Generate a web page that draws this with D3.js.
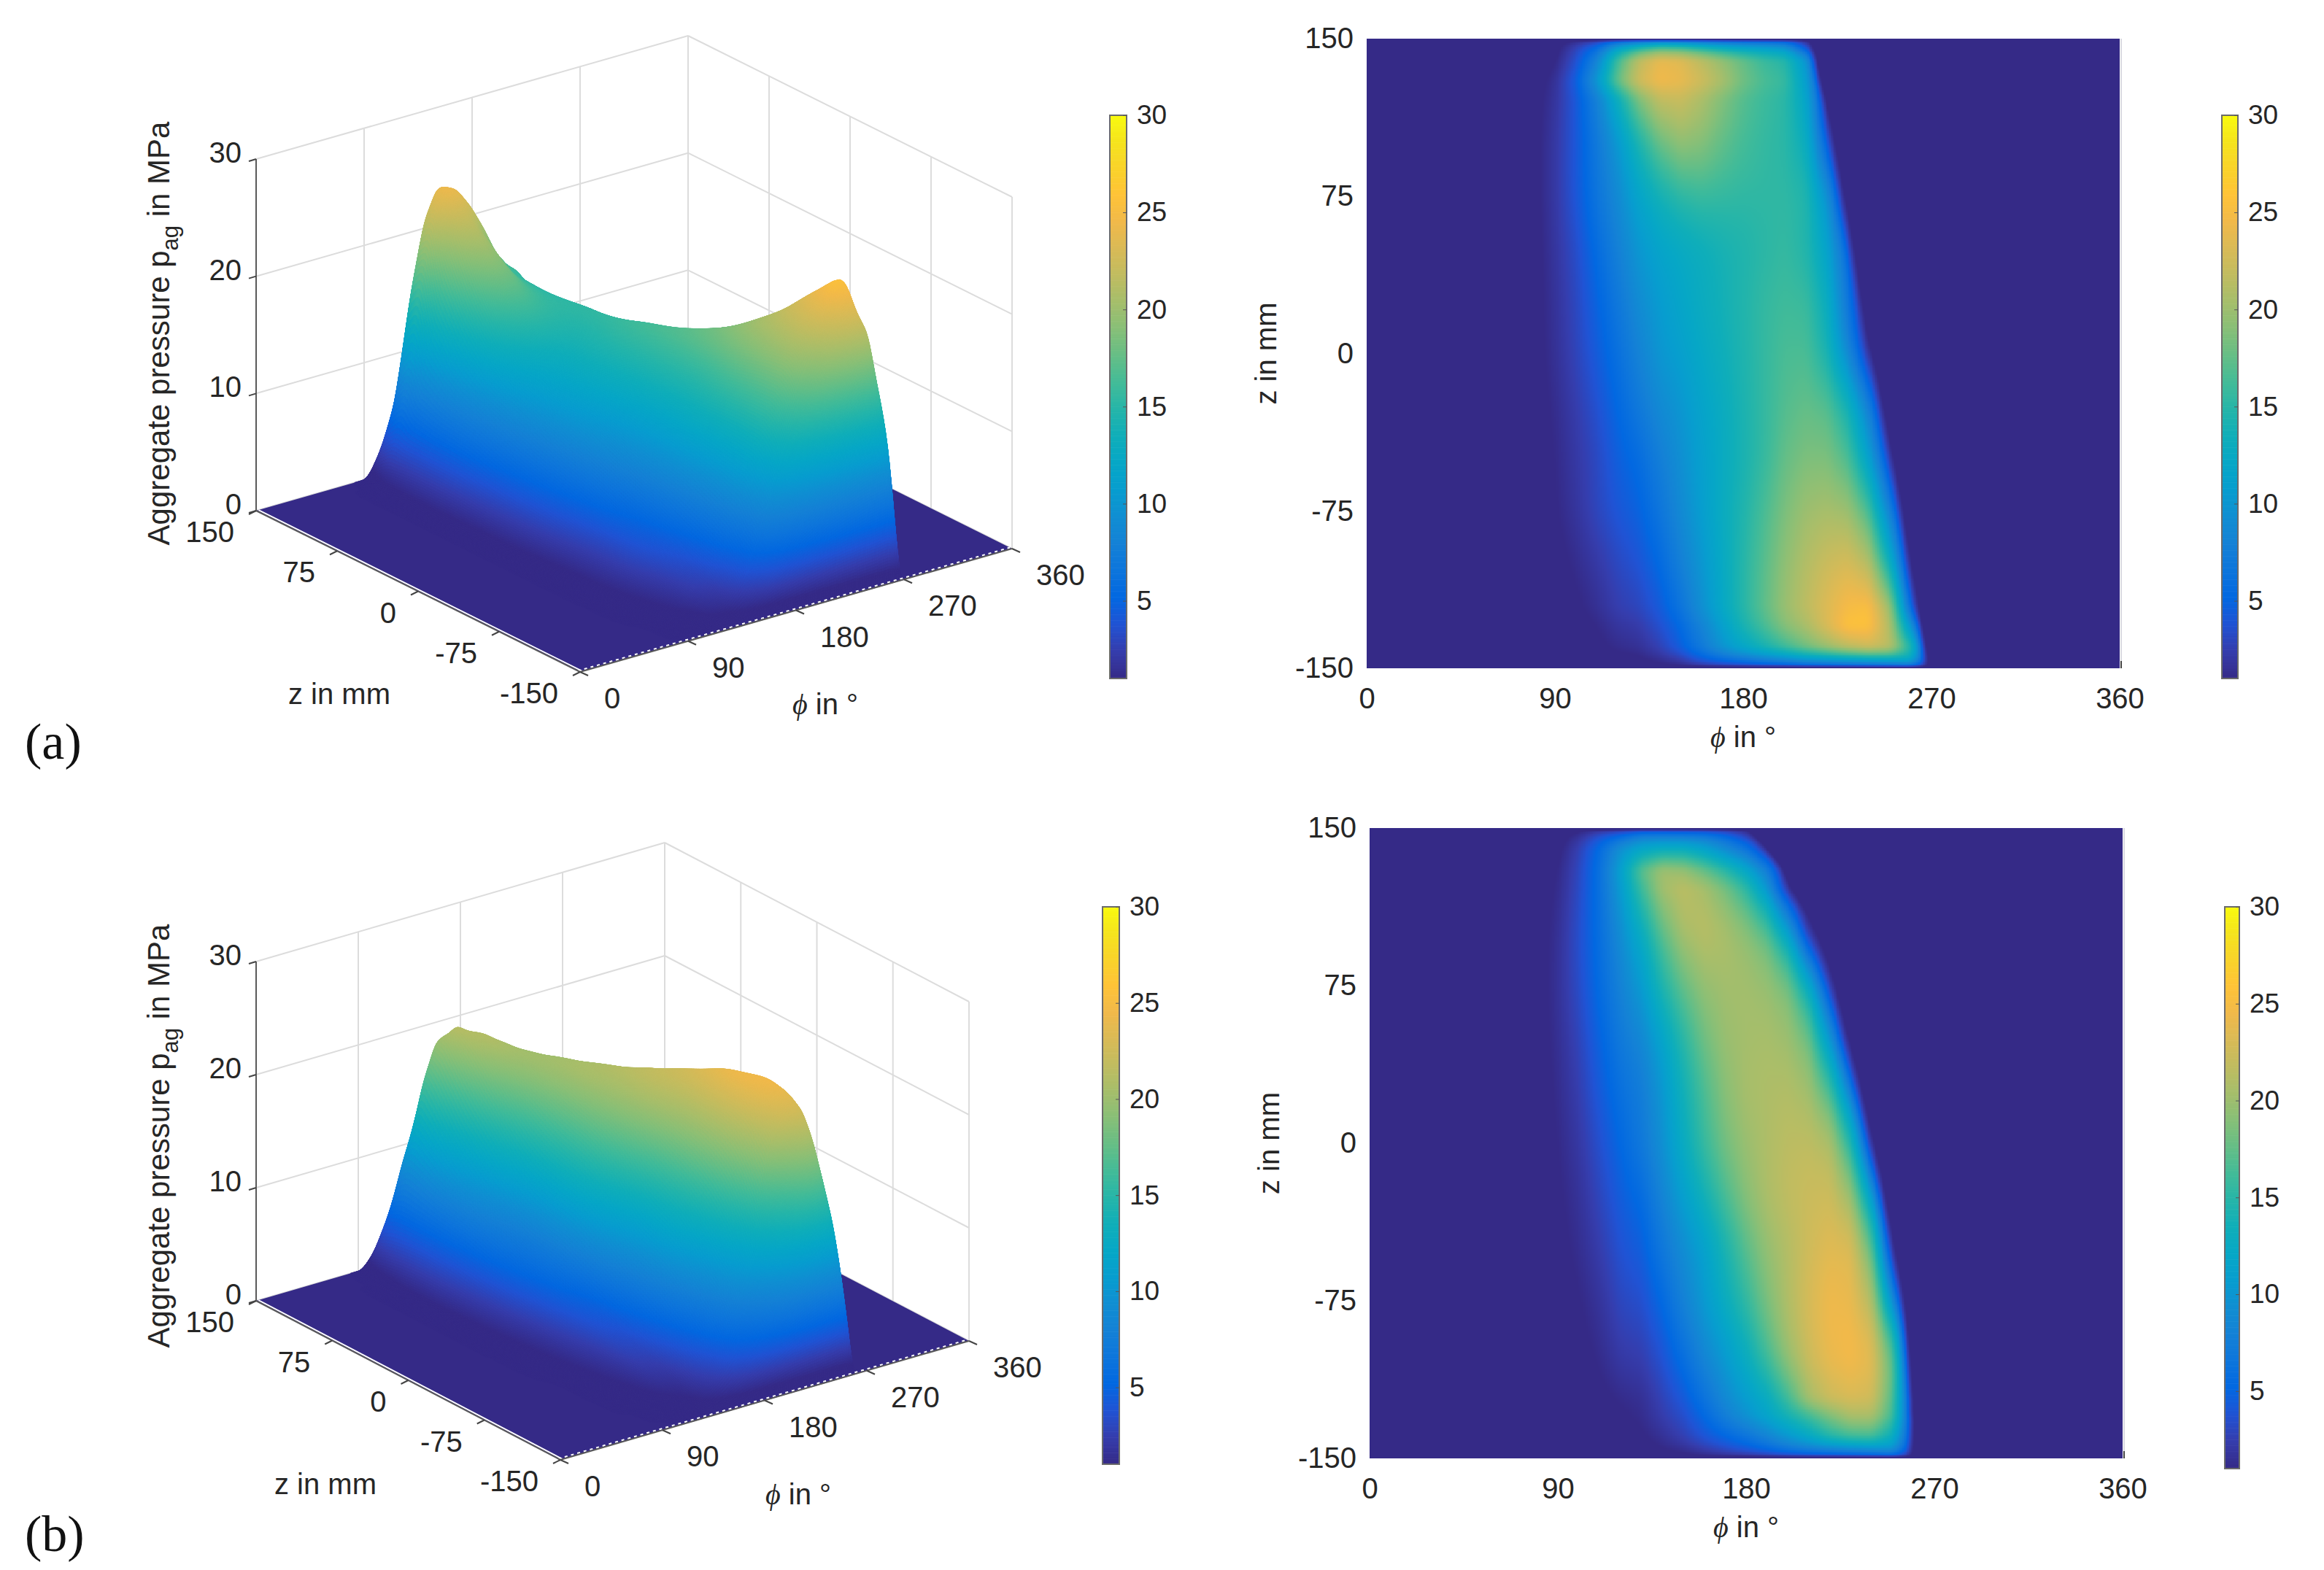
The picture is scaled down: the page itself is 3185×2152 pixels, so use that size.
<!DOCTYPE html>
<html lang="en">

<head>
  <meta charset="UTF-8">
  <title>Aggregate pressure</title>
  <script src="https://d3js.org/d3.v7.min.js"></script>
  <style>
    body { margin: 0; background: #fff; }
    svg { display: block; }
    text { font-family: "Liberation Sans", Arial, sans-serif; fill: #262626; }
    .domain { stroke: none; }
    .grid line { stroke: #dcdcdc; stroke-width: 2; }
    .panel-label { font-family: "Liberation Serif", serif; font-size: 70px; fill: #111; }
  </style>
</head>

<body>
  <svg width="3185" height="2152"></svg>
  <script>
    // pressure tables, one row per z, columns follow phiCols
    const phiCols = [0, 70, 80, 90, 100, 110, 120, 130, 140, 150, 160, 170, 180, 190, 200, 210, 220, 230, 240, 250, 260, 270, 280, 360];
    const zRows = [150, 147, 140, 130, 120, 100, 75, 50, 25, 0, -25, -50, -75, -100, -120, -130, -140, -147, -150];

    // phi where the pressure has dropped to nothing, per z row
    const edgeA = [211, 212, 213.5, 215.5, 218, 222, 226.5, 231, 235.5, 240, 245, 250, 254.5, 258.5, 262, 264, 265.5, 267, 268];
    const edgeB = [180, 182, 189, 197, 201, 209.5, 220, 226.5, 232.5, 238.5, 244, 249, 253.5, 256.5, 258, 258.5, 258.5, 258.5, 258.5];

    const pressureA = [
      [0, 0, 0, 0, 0, 0, 0, 0, 0, 0, 0, 0, 0, 0, 0, 0, 0, 0, 0, 0, 0, 0, 0, 0],
      [0, 0, 0, .3, 2.5, 5, 10, 13, 15, 14.5, 13, 11.5, 10.5, 10, 9, 3, 0, 0, 0, 0, 0, 0, 0, 0],
      [0, 0, 0, .8, 3.5, 8, 16, 21.5, 24, 23.5, 21.5, 19.5, 17.5, 15.8, 14.8, 10, 1, 0, 0, 0, 0, 0, 0, 0],
      [0, 0, .3, 1.5, 4.5, 10, 17.5, 22.5, 24.5, 24, 22.5, 20.5, 18, 16.5, 15.6, 11, 2, 0, 0, 0, 0, 0, 0, 0],
      [0, 0, .5, 1.8, 4, 7.5, 12.5, 18, 21.5, 22, 20.5, 18.5, 16.8, 15.8, 15, 12, 3, 0, 0, 0, 0, 0, 0, 0],
      [0, 0, .6, 2, 4, 6.8, 10, 14, 17.5, 19.5, 19, 17.5, 16.3, 15.5, 15, 13, 4.5, 0, 0, 0, 0, 0, 0, 0],
      [0, 0, .6, 2, 4, 6.5, 8.8, 11.5, 13.5, 15, 15.7, 15.5, 15.3, 15.3, 15.3, 14.8, 10, .8, 0, 0, 0, 0, 0, 0],
      [0, 0, .5, 1.8, 3.3, 5.5, 7.8, 10, 11.5, 12.3, 13, 13.8, 14.4, 15, 15.5, 14.5, 11.5, 6, 0, 0, 0, 0, 0, 0],
      [0, 0, .5, 1.6, 3, 4.8, 6.8, 9, 10.5, 11.8, 12.8, 13.7, 14.6, 15.5, 16, 15.8, 13, 6.5, 0, 0, 0, 0, 0, 0],
      [0, 0, .5, 1.5, 2.8, 4.3, 6, 8, 10, 11, 12.2, 13.3, 14.4, 15.5, 16.5, 16.5, 14, 8.5, 1.5, 0, 0, 0, 0, 0],
      [0, 0, .4, 1.2, 2.3, 3.6, 5.2, 7, 8.8, 10, 11.5, 12.8, 14.2, 15.5, 16.8, 17.5, 17, 14, 8, .5, 0, 0, 0, 0],
      [0, 0, .3, 1, 2, 3, 4.5, 5.5, 7.5, 9.3, 11, 12.5, 14, 15.5, 17.5, 18.5, 18.5, 16.5, 11, 3, 0, 0, 0, 0],
      [0, 0, .3, .9, 1.8, 3, 4, 4.8, 6.5, 8.8, 10.8, 12.8, 14.5, 16.5, 18.5, 20, 20.5, 20, 16.5, 8, .5, 0, 0, 0],
      [0, 0, .1, .5, 1.2, 2, 3, 3.8, 5.3, 7.7, 10, 12.3, 14.8, 17, 19.3, 21, 22.3, 23, 21, 13, 2, 0, 0, 0],
      [0, 0, 0, .3, .8, 1.5, 2.5, 3, 4.3, 6.5, 9.5, 12.3, 15, 17.5, 20, 21.8, 23.5, 25, 25.5, 20, 5, 0, 0, 0],
      [0, 0, 0, .2, .5, 1, 1.8, 2.2, 3.5, 5.3, 8, 11, 14, 16.3, 18.8, 20.5, 23, 25.5, 25.5, 21, 10, .5, 0, 0],
      [0, 0, 0, .1, .3, .7, 1.2, 1.5, 2.6, 4.5, 7, 9.8, 12, 14, 16, 18, 19.8, 21.5, 22.5, 21.5, 15, 2, 0, 0],
      [0, 0, 0, 0, .1, .3, .5, .6, 1.2, 2, 3.8, 5, 6, 7, 7.8, 9, 9.5, 10, 10.5, 11, 12, 1, 0, 0],
      [0, 0, 0, 0, 0, 0, 0, 0, 0, 0, 0, 0, 0, 0, 0, 0, 0, 0, 0, 0, 0, 0, 0, 0]
    ];

    const pressureB = [
      [0, 0, 0, 0, 0, 0, 0, 0, 0, 0, 0, 0, 0, 0, 0, 0, 0, 0, 0, 0, 0, 0, 0, 0],
      [0, 0, 0, .2, 1.5, 3.5, 5, 7, 7, 6.8, 6.5, 5, 2.5, 0, 0, 0, 0, 0, 0, 0, 0, 0, 0, 0],
      [0, 0, 0, .6, 2.6, 5.5, 9.5, 12, 13, 13, 11.5, 9, 6.5, 2, 0, 0, 0, 0, 0, 0, 0, 0, 0, 0],
      [0, 0, 0, 1, 3, 6, 11, 17, 20, 19.5, 17.5, 15, 12, 7.5, .5, 0, 0, 0, 0, 0, 0, 0, 0, 0],
      [0, 0, .3, 1.2, 3.2, 6, 10.5, 16, 20.5, 22, 21, 18.8, 15.8, 10.5, 2, 0, 0, 0, 0, 0, 0, 0, 0, 0],
      [0, 0, .4, 1.5, 3.5, 5.8, 9, 12.5, 17, 20.5, 21.5, 20.8, 19.5, 17.5, 12, 2, 0, 0, 0, 0, 0, 0, 0, 0],
      [0, 0, .4, 1.6, 3.3, 5.5, 8, 10.5, 14.5, 17.5, 19.5, 20.2, 20.3, 19.8, 18.5, 13, 3.5, 0, 0, 0, 0, 0, 0, 0],
      [0, 0, .4, 1.4, 2.8, 4.8, 7, 8.5, 11.5, 15, 18, 19.8, 20.3, 20.5, 20, 18, 10, 0, 0, 0, 0, 0, 0, 0],
      [0, 0, .3, 1.2, 2.4, 4.2, 6, 7.3, 10, 13.5, 16.5, 19, 20.5, 20.8, 21, 20.2, 16.5, 8, 0, 0, 0, 0, 0, 0],
      [0, 0, .3, 1, 2, 3.5, 5.2, 7, 9.5, 12.8, 15.8, 18.2, 19.8, 20.8, 21.5, 21.7, 21, 15, 2.5, 0, 0, 0, 0, 0],
      [0, 0, .2, .8, 1.6, 2.9, 4.4, 5.5, 8.2, 11, 13.7, 16.5, 19, 20.8, 21.8, 22.3, 22.5, 20, 11, .5, 0, 0, 0, 0],
      [0, 0, 0, .6, 1.3, 2.3, 3.7, 4.5, 6.8, 9, 11, 14, 17, 19.5, 21, 22.5, 23.5, 23.5, 17.5, 2, 0, 0, 0, 0],
      [0, 0, 0, .4, .9, 1.7, 3, 3.5, 5.3, 8, 10.5, 13, 15.5, 18.5, 21, 23, 24.5, 24, 21, 9, .3, 0, 0, 0],
      [0, 0, 0, .2, .6, 1.2, 2.2, 2.5, 3.8, 6, 8.5, 10.5, 13, 16.5, 20, 22.5, 24.2, 25, 24, 18, 1, 0, 0, 0],
      [0, 0, 0, 0, .3, .7, 1.2, 1.5, 2.8, 4.3, 6.5, 9, 11, 13, 16.5, 21, 23, 23.5, 23, 17, 2.5, 0, 0, 0],
      [0, 0, 0, 0, .2, .5, .8, 1.2, 2.3, 3.4, 5.2, 7.5, 9.5, 11.5, 13.8, 16, 18.5, 20.5, 20.5, 16, 3, 0, 0, 0],
      [0, 0, 0, 0, 0, .3, .5, .8, 1.5, 2.5, 3.8, 5, 6.3, 8, 10, 12, 14.5, 15.8, 16, 13, 3, 0, 0, 0],
      [0, 0, 0, 0, 0, 0, .2, .4, .8, 1.2, 2, 2.8, 3.6, 4.6, 5.8, 6.6, 7, 7.5, 8, 9, 2, 0, 0, 0],
      [0, 0, 0, 0, 0, 0, 0, 0, 0, 0, 0, 0, 0, 0, 0, 0, 0, 0, 0, 0, 0, 0, 0, 0]
    ];

    const phiTicks = [0, 90, 180, 270, 360];
    const zTicks = [150, 75, 0, -75, -150];
    const pTicks = [0, 10, 20, 30];
    const barTicks = [5, 10, 15, 20, 25, 30];

    // parula
    const parula = ['#352a87', '#353dad', '#2053d4', '#0268e1', '#0d75dc', '#1481d6', '#108ed2', '#079dcf',
      '#06a7c6', '#0faeb9', '#25b5a9', '#42bb98', '#65be86', '#87bf77', '#a5be6b', '#c0bc60',
      '#d9ba56', '#f1b94a', '#ffc337', '#f9d32a', '#f5e41d', '#f9fb0e'];

    const barMin = 1;
    const barMax = 30;
    const color = d3.scaleLinear()
      .domain(parula.map((c, i) => barMin + (barMax - barMin) * i / (parula.length - 1)))
      .range(parula)
      .clamp(true);

    const lut = d3.range(1201).map(i => d3.color(color(i / 40)));
    const lutIndex = p => Math.max(0, Math.min(1200, Math.round(p * 40)));

    const svg = d3.select('svg');

    // fine grid for the interpolated shading, like shading interp
    const nPhi = 721;
    const nZ = 601;
    const rowPos = d3.scaleLinear().domain(zRows).range(zRows.map((z, i) => i));

    function shade(table, edges) {
      const rows = table.map(row => d3.scaleLinear().domain(phiCols).range(row));
      const edgeAt = d3.scaleLinear().domain(zRows).range(edges);
      const raw = new Float64Array(nPhi * nZ);
      for (let iz = 0; iz < nZ; iz++) {
        const z = 150 - iz / 2;
        const pos = rowPos(z);
        const i0 = Math.min(Math.floor(pos), zRows.length - 2);
        const t = pos - i0;
        const edge = edgeAt(z);
        for (let ip = 0; ip < nPhi; ip++) {
          const phi = ip / 2;
          raw[iz * nPhi + ip] = phi > edge ? 0 : rows[i0](phi) * (1 - t) + rows[i0 + 1](phi) * t;
        }
      }
      // the rim keeps its sharp band, the long middle rows get smoothed more
      const light = { data: Float64Array.from(raw), width: nPhi, height: nZ };
      const heavy = { data: Float64Array.from(raw), width: nPhi, height: nZ };
      d3.blur2(light, 3, 3);
      d3.blur2(heavy, 3, 18);
      const weight = d3.scaleLinear().domain([108, 126]).range([1, 0]).clamp(true);
      // the blur lifts the outer rows, pull them back to the floor
      const rim = d3.scaleLinear().domain([148.5, 150]).range([1, 0]).clamp(true);
      const data = new Float64Array(nPhi * nZ);
      for (let iz = 0; iz < nZ; iz++) {
        const az = Math.abs(150 - iz / 2);
        const w = weight(az);
        const r = rim(az);
        for (let ip = 0; ip < nPhi; ip++) {
          const k = iz * nPhi + ip;
          data[k] = (heavy.data[k] * w + light.data[k] * (1 - w)) * r;
        }
      }
      return { data, width: nPhi, height: nZ };
    }

    function addCanvasImage(g, canvas, x, y) {
      g.append('image')
        .attr('x', x).attr('y', y)
        .attr('width', canvas.width).attr('height', canvas.height)
        .attr('href', canvas.toDataURL());
    }

    function addPhiTitle(g, x, y) {
      const t = g.append('text').attr('x', x).attr('y', y)
        .attr('text-anchor', 'middle').style('font-size', '40px');
      t.append('tspan').style('font-style', 'italic').style('font-family', '"Liberation Serif", serif').text('ϕ');
      t.append('tspan').text(' in °');
    }

    function heatmap(field, box) {
      const x = d3.scaleLinear().domain([0, 360]).range([box.x0, box.x1]);
      const y = d3.scaleLinear().domain([-150, 150]).range([box.y1, box.y0]);
      const g = svg.append('g');

      const canvas = document.createElement('canvas');
      canvas.width = box.x1 - box.x0;
      canvas.height = box.y1 - box.y0;
      const ctx = canvas.getContext('2d');
      const img = ctx.createImageData(canvas.width, canvas.height);
      for (let py = 0; py < canvas.height; py++) {
        const iz = Math.round((150 - y.invert(box.y0 + py + 0.5)) * 2);
        for (let px = 0; px < canvas.width; px++) {
          const ip = Math.round(x.invert(box.x0 + px + 0.5) * 2);
          const c = lut[lutIndex(field.data[iz * nPhi + ip])];
          const k = (py * canvas.width + px) * 4;
          img.data[k] = c.r; img.data[k + 1] = c.g; img.data[k + 2] = c.b; img.data[k + 3] = 255;
        }
      }
      ctx.putImageData(img, 0, 0);
      addCanvasImage(g, canvas, box.x0, box.y0);

      // light box on the right, as matlab leaves it
      g.append('line').attr('x1', box.x1 + 2).attr('x2', box.x1 + 2)
        .attr('y1', box.y0).attr('y2', box.y1)
        .attr('stroke', '#d8d8e0').attr('stroke-width', 2);
      g.append('line').attr('x1', box.x1 + 2).attr('x2', box.x1 + 2)
        .attr('y1', box.y1 - 10).attr('y2', box.y1)
        .attr('stroke', '#444').attr('stroke-width', 2);

      const plain = d => String(d);
      const xAxis = d3.axisBottom(x).tickValues(phiTicks).tickSize(0).tickPadding(27).tickFormat(plain);
      const yAxis = d3.axisLeft(y).tickValues(zTicks).tickSize(0).tickPadding(18).tickFormat(plain);
      g.append('g').attr('transform', `translate(0,${box.y1})`).call(xAxis)
        .selectAll('text').style('font-size', '40px').style('font-family', '"Liberation Sans"').style('fill', '#262626');
      g.append('g').attr('transform', `translate(${box.x0},0)`).call(yAxis)
        .selectAll('text').style('font-size', '40px').style('font-family', '"Liberation Sans"').style('fill', '#262626');

      addPhiTitle(g, box.x0 + (box.x1 - box.x0) / 2, box.y1 + 108);
      g.append('text')
        .attr('transform', `translate(${box.x0 - 124},${(box.y0 + box.y1) / 2}) rotate(-90)`)
        .attr('text-anchor', 'middle').style('font-size', '40px').text('z in mm');
    }

    function colorbar(box) {
      const y = d3.scaleLinear().domain([barMin, barMax]).range([box.y1, box.y0]);
      const g = svg.append('g');
      g.selectAll('rect').data(d3.range(barMin, barMax, 0.1)).join('rect')
        .attr('x', box.x0).attr('width', box.x1 - box.x0)
        .attr('y', d => y(d + 0.1)).attr('height', d => y(d) - y(d + 0.1) + 0.6)
        .attr('fill', d => color(d));
      g.append('rect').attr('x', box.x0).attr('y', box.y0)
        .attr('width', box.x1 - box.x0).attr('height', box.y1 - box.y0)
        .attr('fill', 'none').attr('stroke', '#6b6b6b').attr('stroke-width', 2);
      const axis = d3.axisRight(y).tickValues(barTicks).tickSize(-5).tickPadding(14);
      const ag = g.append('g').attr('transform', `translate(${box.x1},0)`).call(axis);
      ag.selectAll('text').style('font-size', '37px').style('font-family', '"Liberation Sans"').style('fill', '#262626');
      ag.selectAll('line').attr('stroke', '#555');
    }

    function surface3d(field, c) {
      // orthographic view, corners of the floor give the scales
      const xPhi = d3.scaleLinear().domain([0, 360]).range([0, c.right[0] - c.bottom[0]]);
      const yPhi = d3.scaleLinear().domain([0, 360]).range([0, c.right[1] - c.bottom[1]]);
      const xZ = d3.scaleLinear().domain([-150, 150]).range([c.bottom[0], c.left[0]]);
      const yZ = d3.scaleLinear().domain([-150, 150]).range([c.bottom[1], c.left[1]]);
      const yP = d3.scaleLinear().domain([0, 30]).range([0, -c.height]);
      const project = (phi, z, p) => [xPhi(phi) + xZ(z), yPhi(phi) + yZ(z) + yP(p)];

      const g = svg.append('g');
      const gridG = g.append('g').attr('class', 'grid');
      const segment = (a, b) => ({ a, b });
      const gridLines = [];
      phiTicks.slice(1).forEach(phi => gridLines.push(segment(project(phi, 150, 0), project(phi, 150, 30))));
      zTicks.slice(1).forEach(z => gridLines.push(segment(project(360, z, 0), project(360, z, 30))));
      pTicks.forEach(p => {
        gridLines.push(segment(project(0, 150, p), project(360, 150, p)));
        gridLines.push(segment(project(360, 150, p), project(360, -150, p)));
      });
      gridG.selectAll('line').data(gridLines).join('line')
        .attr('x1', d => d.a[0]).attr('y1', d => d.a[1])
        .attr('x2', d => d.b[0]).attr('y2', d => d.b[1]);

      // painter's order, far corner first
      const ox = c.left[0] - 20;
      const oy = project(360, 150, 30)[1] - 20;
      const canvas = document.createElement('canvas');
      canvas.width = c.right[0] - c.left[0] + 40;
      canvas.height = c.bottom[1] - oy + 20;
      const ctx = canvas.getContext('2d');
      ctx.translate(-ox, -oy);
      ctx.lineWidth = 1;
      ctx.lineJoin = 'round';

      const floor = [project(0, 150, 0), project(360, 150, 0), project(360, -150, 0), project(0, -150, 0)];
      ctx.fillStyle = parula[0];
      ctx.beginPath();
      floor.forEach((pt, i) => i ? ctx.lineTo(pt[0], pt[1]) : ctx.moveTo(pt[0], pt[1]));
      ctx.closePath();
      ctx.fill();

      const stepP = 2;
      const stepZ = 2;
      for (let iz = 0; iz + stepZ < nZ; iz += stepZ) {
        const z0 = 150 - iz / 2;
        const z1 = 150 - (iz + stepZ) / 2;
        for (let ip = nPhi - 1 - stepP; ip >= 0; ip -= stepP) {
          const p00 = field.data[iz * nPhi + ip];
          const p01 = field.data[iz * nPhi + ip + stepP];
          const p10 = field.data[(iz + stepZ) * nPhi + ip];
          const p11 = field.data[(iz + stepZ) * nPhi + ip + stepP];
          if (p00 < 0.02 && p01 < 0.02 && p10 < 0.02 && p11 < 0.02) continue;
          const phi0 = ip / 2;
          const phi1 = (ip + stepP) / 2;
          // steep quads get cut into strips so the colour follows the height
          const strips = Math.min(30, Math.max(1, Math.ceil(Math.max(Math.abs(p10 - p00), Math.abs(p11 - p01)) / 0.25)));
          for (let s = 0; s < strips; s++) {
            const t0 = s / strips;
            const t1 = (s + 1) / strips;
            const za = z0 + (z1 - z0) * t0;
            const zb = z0 + (z1 - z0) * t1;
            const pa0 = p00 + (p10 - p00) * t0;
            const pa1 = p01 + (p11 - p01) * t0;
            const pb0 = p00 + (p10 - p00) * t1;
            const pb1 = p01 + (p11 - p01) * t1;
            const a = project(phi0, za, pa0);
            const b = project(phi1, za, pa1);
            const d = project(phi1, zb, pb1);
            const e = project(phi0, zb, pb0);
            const col = color((pa0 + pa1 + pb0 + pb1) / 4);
            ctx.fillStyle = col;
            ctx.strokeStyle = col;
            ctx.beginPath();
            ctx.moveTo(a[0], a[1]);
            ctx.lineTo(b[0], b[1]);
            ctx.lineTo(d[0], d[1]);
            ctx.lineTo(e[0], e[1]);
            ctx.closePath();
            ctx.fill();
            ctx.stroke();
          }
        }
      }
      addCanvasImage(g, canvas, ox, oy);

      // thin white rim left along the floor edges
      g.append('line')
        .attr('x1', project(2, 150, 0)[0]).attr('y1', project(2, 150, 0)[1])
        .attr('x2', project(2, -150, 0)[0]).attr('y2', project(2, -150, 0)[1])
        .attr('stroke', '#fff').attr('stroke-width', 2);
      g.append('line')
        .attr('x1', project(0, -148, 0)[0]).attr('y1', project(0, -148, 0)[1])
        .attr('x2', project(360, -148, 0)[0]).attr('y2', project(360, -148, 0)[1])
        .attr('stroke', '#fff').attr('stroke-width', 2).attr('stroke-dasharray', '4 5');

      // axes on top
      const axisLines = [
        segment(project(0, 150, 0), project(0, 150, 30)),
        segment(project(0, 150, 0), project(0, -150, 0)),
        segment(project(0, -150, 0), project(360, -150, 0))
      ];
      g.selectAll('.axis-line').data(axisLines).join('line').attr('class', 'axis-line')
        .attr('x1', d => d.a[0]).attr('y1', d => d.a[1])
        .attr('x2', d => d.b[0]).attr('y2', d => d.b[1])
        .attr('stroke', '#5a5a5a').attr('stroke-width', 2);

      const tick = (sel, at, dx, dy) => sel.join('line')
        .attr('x1', d => at(d)[0]).attr('y1', d => at(d)[1])
        .attr('x2', d => at(d)[0] + dx).attr('y2', d => at(d)[1] + dy)
        .attr('stroke', '#444').attr('stroke-width', 2);
      tick(g.selectAll('.tp').data(pTicks), d => project(0, 150, d), -10, 3);
      tick(g.selectAll('.tz').data(zTicks), d => project(0, d, 0), -10, 5);
      tick(g.selectAll('.tf').data(phiTicks), d => project(d, -150, 0), 11, 5);

      const label = (data, at, dx, dy, anchor) => g.append('g').selectAll('text').data(data).join('text')
        .attr('x', d => at(d)[0] + dx).attr('y', d => at(d)[1] + dy + 14)
        .attr('text-anchor', anchor).style('font-size', '40px').text(d => d);
      label(pTicks, d => project(0, 150, d), -20, -9, 'end');
      label(zTicks, d => project(0, d, 0), -30, 29, 'end');
      label(phiTicks, d => project(d, -150, 0), 33, 36, 'start');

      g.append('text').attr('x', c.zTitle[0]).attr('y', c.zTitle[1]).attr('text-anchor', 'middle')
        .style('font-size', '40px').text('z in mm');
      addPhiTitle(g, c.phiTitle[0], c.phiTitle[1]);
      const yt = g.append('text')
        .attr('transform', `translate(${c.pTitle[0]},${c.pTitle[1]}) rotate(-90)`)
        .attr('text-anchor', 'middle').style('font-size', '42px');
      yt.append('tspan').text('Aggregate pressure p');
      yt.append('tspan').attr('dy', 12).style('font-size', '31px').text('ag');
      yt.append('tspan').attr('dy', -12).text(' in MPa');
    }

    const fieldA = shade(pressureA, edgeA);
    const fieldB = shade(pressureB, edgeB);

    surface3d(fieldA, {
      left: [351, 700], right: [1387, 752], bottom: [795, 921], height: 482,
      zTitle: [465, 965], phiTitle: [1131, 979], pTitle: [232, 457]
    });
    heatmap(fieldA, { x0: 1873, x1: 2905, y0: 53, y1: 916 });
    colorbar({ x0: 1521, x1: 1544, y0: 158, y1: 930 });
    colorbar({ x0: 3045, x1: 3067, y0: 158, y1: 930 });

    surface3d(fieldB, {
      left: [351, 1783], right: [1328, 1838], bottom: [768, 2001], height: 465,
      zTitle: [446, 2048], phiTitle: [1094, 2062], pTitle: [232, 1557]
    });
    heatmap(fieldB, { x0: 1877, x1: 2909, y0: 1135, y1: 1999 });
    colorbar({ x0: 1511, x1: 1534, y0: 1243, y1: 2007 });
    colorbar({ x0: 3049, x1: 3069, y0: 1243, y1: 2013 });

    svg.append('text').attr('class', 'panel-label').attr('x', 34).attr('y', 1040).text('(a)');
    svg.append('text').attr('class', 'panel-label').attr('x', 34).attr('y', 2126).text('(b)');
  </script>
</body>

</html>
